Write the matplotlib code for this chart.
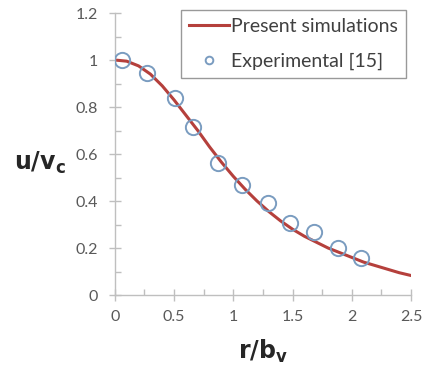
import matplotlib
matplotlib.use("Agg")
import matplotlib.pyplot as plt
from matplotlib.ticker import MultipleLocator, FixedLocator

# Data
sim_r = [0, 0.1, 0.2, 0.3, 0.4, 0.5, 0.6, 0.7, 0.8, 0.9, 1.0, 1.1, 1.2, 1.3,
         1.4, 1.5, 1.6, 1.7, 1.8, 1.9, 2.0, 2.1, 2.2, 2.3, 2.4, 2.5]
sim_u = [1.0, 0.995, 0.975, 0.94, 0.89, 0.83, 0.765, 0.70, 0.63, 0.565, 0.505,
         0.45, 0.40, 0.355, 0.315, 0.28, 0.25, 0.225, 0.20, 0.18, 0.16, 0.14,
         0.125, 0.11, 0.095, 0.083]
exp_r = [0.06, 0.27, 0.51, 0.66, 0.87, 1.07, 1.295, 1.48, 1.68, 1.886, 2.08]
exp_u = [1.0, 0.946, 0.84, 0.716, 0.563, 0.468, 0.39, 0.305, 0.27, 0.2, 0.156]
x_ticks = [0, 0.5, 1, 1.5, 2, 2.5]
x_labels = ["0", "0.5", "1", "1.5", "2", "2.5"]
y_ticks = [0, 0.2, 0.4, 0.6, 0.8, 1.0, 1.2]
y_labels = ["0", "0.2", "0.4", "0.6", "0.8", "1", "1.2"]

plt.rcParams['font.family'] = ['Lato', 'DejaVu Sans']

fig = plt.figure(figsize=(4.27, 3.76), dpi=100)
ax = fig.add_axes([0.269, 0.2154, 0.9625 - 0.269, 0.9654 - 0.2154])

ax.plot(sim_r, sim_u, color='#b5403c', lw=2.2, label='Present simulations', zorder=2)
ax.plot(exp_r, exp_u, ls='none', marker='o', ms=11, mfc='none', mec='#7a9cc0',
        mew=1.4, label='Experimental [15]', zorder=3)

ax.set_xlim(0, 2.5)
ax.set_ylim(0, 1.2)
ax.xaxis.set_major_locator(FixedLocator(x_ticks))
ax.set_xticklabels(x_labels)
ax.yaxis.set_major_locator(FixedLocator(y_ticks))
ax.set_yticklabels(y_labels)
ax.xaxis.set_minor_locator(MultipleLocator(0.25))
ax.yaxis.set_minor_locator(MultipleLocator(0.1))

for s in ['top', 'right']:
    ax.spines[s].set_visible(False)
for s in ['left', 'bottom']:
    ax.spines[s].set_color('#bfbfbf')
    ax.spines[s].set_linewidth(1.0)
ax.tick_params(which='major', direction='inout', length=8, width=1.0,
               color='#bfbfbf', labelcolor='#595959', labelsize=11.5)
ax.tick_params(which='minor', direction='in', length=4, width=1.0, color='#bfbfbf')
ax.tick_params(axis='x', which='major', pad=7)
ax.tick_params(axis='y', which='major', pad=8)

ax.text(-0.253, 0.47, r'$\mathbf{u/v_c}$', transform=ax.transAxes, ha='center',
        va='center', fontsize=17, color='#262626')
fig.text(0.615, 0.065, r'$\mathbf{r/b_v}$', ha='center', va='center',
         fontsize=17, color='#262626')

leg = ax.legend(loc='upper left', bbox_to_anchor=(0.223, 1.011), frameon=True,
                fancybox=False, fontsize=14, handlelength=2.05, handletextpad=0.1,
                borderpad=0.42, labelspacing=0.9, borderaxespad=0, markerscale=0.5)
leg.get_frame().set_edgecolor('#808080')
leg.get_frame().set_linewidth(1.0)
for t in leg.get_texts():
    t.set_color('#404040')

fig.savefig('out.png', dpi=100)
